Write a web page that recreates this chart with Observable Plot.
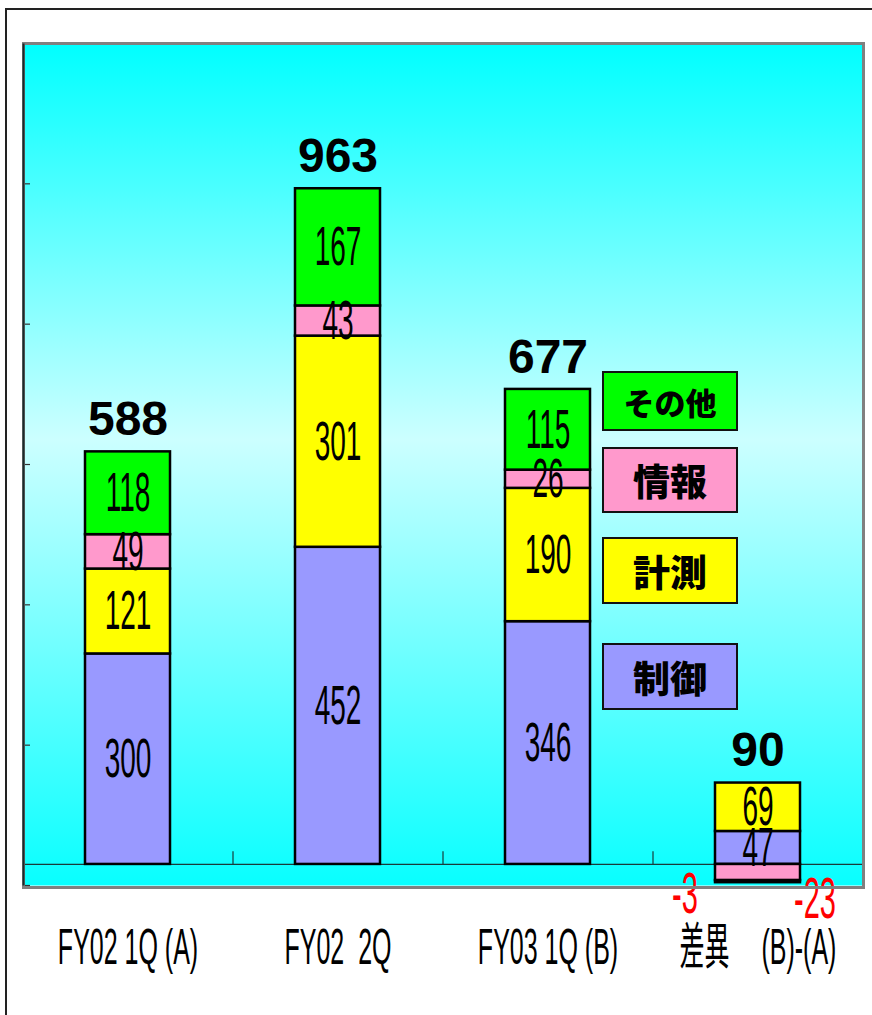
<!DOCTYPE html>
<html>
<head>
<meta charset="utf-8">
<script src="https://cdn.jsdelivr.net/npm/d3@7"></script>
<script src="https://cdn.jsdelivr.net/npm/@observablehq/plot@0.6"></script>
<style>
  body { margin: 0; background: #fff; }
  #wrap { position: relative; width: 872px; height: 1015px; overflow: hidden; font-family: "Liberation Sans", Arial, sans-serif; }
  #outer { position: absolute; left: 5px; top: 8px; width: 900px; height: 1100px; border-left: 2px solid #222; border-top: 2px solid #222; }
  #chart { position: absolute; left: 0; top: 0; }
  .lg { position: absolute; left: 602px; width: 132px; border: 2px solid #111; display: flex; align-items: center; justify-content: center;
        font-family: "Noto Sans CJK JP", sans-serif; font-weight: 900; color: #000; box-sizing: content-box; }
  svg text { white-space: pre; }
</style>
</head>
<body>
<div id="wrap">
  <div id="outer"></div>
  <div id="chart"></div>
  <div id="legend"></div>
</div>
<script>
const categories = ["FY02 1Q (A)", "FY02  2Q", "FY03 1Q (B)", "差異　 (B)-(A)"];
const seriesNames = ["制御", "計測", "情報", "その他"];
const seriesColors = ["#9999FF", "#FFFF00", "#FF99CC", "#00FF00"];
const seigyo = [300, 452, 346, 47];
const keisoku = [121, 301, 190, 69];
const jouhou = [49, 43, 26, -23];
const sonota = [118, 167, 115, -3];
const totals = [588, 963, 677, 90];
const yTicks = [-30, 170, 370, 570, 770, 970, 1170];

const seriesValues = [seigyo, keisoku, jouhou, sonota];
const data = [];
categories.forEach((c, i) => {
  seriesNames.forEach((s, j) => data.push({cat: c, series: s, value: seriesValues[j][i]}));
});
const totalRows = categories.map((c, i) => ({
  cat: c, total: totals[i],
  top: seriesValues.reduce((a, arr) => a + Math.max(0, arr[i]), 0)
}));
const diffCat = categories[3];
const negLeft = [{cat: diffCat, value: sonota[3]}];
const negRight = [{cat: diffCat, value: jouhou[3]}];

const chart = Plot.plot({
  width: 872,
  height: 1015,
  marginTop: 43,
  marginBottom: 130,
  marginLeft: 23,
  marginRight: 10,
  x: {domain: categories, paddingInner: 0.595, paddingOuter: 0.295, axis: null},
  y: {domain: [-30, 1170], axis: null},
  color: {domain: seriesNames, range: seriesColors, legend: false},
  marks: [
    Plot.frame({fill: "url(#bgGrad)"}),
    Plot.tickY(yTicks, {y: d => d, insetRight: 832, stroke: "#333", strokeWidth: 1.2}),
    Plot.ruleY([0], {stroke: "#1a3a3a", strokeWidth: 1.3}),
    Plot.ruleX(categories, {x: d => d, dx: 105, y1: 0, y2: 18, stroke: "#1a3a3a", strokeWidth: 1.2}),
    Plot.barY(data, Plot.stackY({x: "cat", y: "value", fill: "series", stroke: "#000", strokeWidth: 2.5})),
    Plot.text(data, Plot.stackY({
      x: "cat", y: "value", z: "series",
      text: d => d.value > 0 ? String(d.value) : null,
      fontSize: 56, fill: "#000", ariaDescription: "narrow", lineAnchor: "middle"
    })),
    Plot.text(totalRows, {x: "cat", y: "top", text: d => String(d.total), dy: -32, fontSize: 48, fontWeight: "bold", fill: "#000", lineAnchor: "middle"}),
    Plot.text(negLeft, {x: "cat", y: 0, text: d => String(d.value), dx: -73, dy: 30, fontSize: 58, fill: "#FF0000", ariaDescription: "narrow", lineAnchor: "middle"}),
    Plot.text(negRight, {x: "cat", y: 0, text: d => String(d.value), dx: 57, dy: 35, fontSize: 58, fill: "#FF0000", ariaDescription: "narrow", lineAnchor: "middle"}),
    Plot.text(categories, {x: d => d, frameAnchor: "bottom", text: d => d, dy: 62, fontSize: 50, fill: "#000", ariaDescription: "narrow", lineAnchor: "middle"}),
    Plot.frame({stroke: "#808080", strokeWidth: 3, insetTop: 0, insetRight: -1, insetBottom: -2}),
    Plot.frame({fill: "#1a2a2a", insetRight: 838, insetLeft: -1})
  ]
});

const svg = d3.select(chart);
const defs = svg.insert("defs", ":first-child");
const grad = defs.append("linearGradient").attr("id", "bgGrad").attr("x1", 0).attr("y1", 0).attr("x2", 0).attr("y2", 1);
grad.append("stop").attr("offset", "0").attr("stop-color", "#00FFFF");
grad.append("stop").attr("offset", "0.47").attr("stop-color", "#CCFFFF");
grad.append("stop").attr("offset", "1").attr("stop-color", "#08FFFF");

svg.selectAll('g[aria-description="narrow"] text').each(function() {
  const t = this.getAttribute("transform") || "";
  this.setAttribute("transform", t + " scale(0.5,1)");
});
svg.style("font-family", '"Liberation Sans", Arial, "Noto Sans CJK JP", sans-serif');

document.getElementById("chart").appendChild(chart);

// legend boxes
const legendSpec = [
  {name: "その他", top: 371, h: 56, fs: 31},
  {name: "情報", top: 447, h: 62, fs: 37},
  {name: "計測", top: 537, h: 63, fs: 37},
  {name: "制御", top: 643, h: 63, fs: 37}
];
const lg = document.getElementById("legend");
legendSpec.forEach(s => {
  const d = document.createElement("div");
  d.className = "lg";
  d.style.top = s.top + "px";
  d.style.height = s.h + "px";
  d.style.fontSize = s.fs + "px";
  d.style.background = seriesColors[seriesNames.indexOf(s.name)];
  d.textContent = s.name;
  lg.appendChild(d);
});
</script>
</body>
</html>
